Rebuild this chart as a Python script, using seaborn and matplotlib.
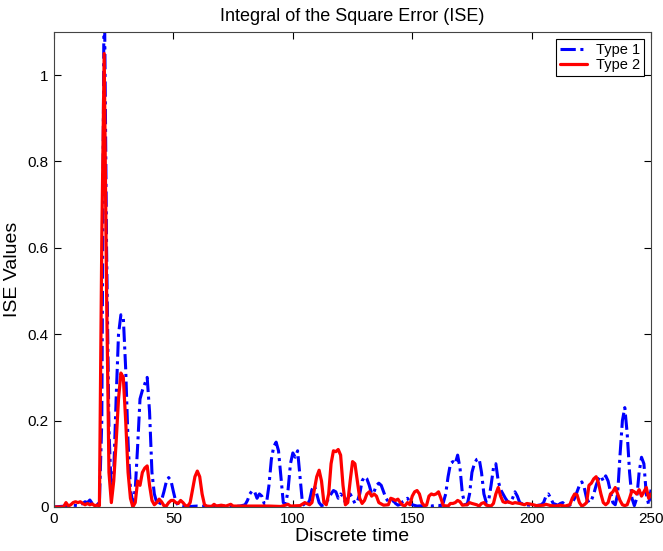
import matplotlib
matplotlib.use("Agg")
import matplotlib.pyplot as plt
import pandas as pd
import seaborn as sns

# Type 1 controller: (discrete time, ISE)
time_1 = [0, 5, 8, 10, 12, 13, 14, 15, 16, 17, 18, 19, 20, 21, 22, 23, 24, 25, 26, 27,
          28, 29, 30, 31, 32, 33, 34, 35, 36, 37, 38, 39, 40, 41, 42, 43, 44, 45, 46, 47,
          48, 49, 50, 51, 52, 54, 57, 60, 65, 70, 75, 78, 80, 81, 82, 83, 84, 85, 86, 87,
          88, 89, 90, 91, 92, 93, 94, 95, 96, 97, 98, 99, 100, 101, 102, 103, 104, 105, 106, 107,
          108, 109, 110, 111, 112, 113, 114, 115, 116, 117, 118, 119, 120, 121, 122, 123, 124, 125, 126, 127,
          128, 129, 130, 131, 132, 133, 134, 135, 136, 137, 138, 139, 140, 141, 142, 143, 144, 145, 146, 147,
          148, 149, 150, 152, 155, 158, 160, 162, 163, 164, 165, 166, 167, 168, 169, 170, 171, 172, 173, 174,
          175, 176, 177, 178, 179, 180, 181, 182, 183, 184, 185, 186, 187, 188, 189, 190, 191, 192, 193, 194,
          195, 197, 200, 202, 204, 205, 206, 207, 208, 209, 211, 212, 213, 214, 215, 216, 217, 218, 219, 220,
          221, 222, 223, 224, 225, 226, 227, 228, 229, 230, 231, 232, 233, 234, 235, 236, 237, 238, 239, 240,
          241, 242, 243, 244, 245, 246, 247, 248, 249, 250]
ise_1 = [0.0, 0.002, 0.004, 0.003, 0.008, 0.012, 0.01, 0.016, 0.008, 0.004, 0.005, 0.01, 0.2, 1.25, 0.6, 0.18, 0.03, 0.08, 0.25, 0.4,
         0.445, 0.44, 0.32, 0.15, 0.04, 0.01, 0.04, 0.14, 0.25, 0.27, 0.285, 0.3, 0.22, 0.08, 0.03, 0.01, 0.005, 0.015, 0.035, 0.058,
         0.068, 0.06, 0.035, 0.012, 0.004, 0.002, 0.001, 0.002, 0.001, 0.002, 0.001, 0.002, 0.005, 0.015, 0.03, 0.038, 0.035, 0.02, 0.03, 0.025,
         0.008, 0.01, 0.05, 0.11, 0.14, 0.15, 0.13, 0.07, 0.01, 0.005, 0.04, 0.1, 0.125, 0.115, 0.13, 0.07, 0.01, 0.003, 0.005, 0.015,
         0.04, 0.05, 0.03, 0.01, 0.003, 0.005, 0.01, 0.02, 0.03, 0.038, 0.035, 0.02, 0.03, 0.025, 0.01, 0.02, 0.03, 0.02, 0.008, 0.012,
         0.03, 0.06, 0.07, 0.065, 0.05, 0.03, 0.035, 0.05, 0.055, 0.05, 0.035, 0.02, 0.012, 0.01, 0.015, 0.008, 0.004, 0.006, 0.012, 0.015,
         0.02, 0.012, 0.005, 0.002, 0.003, 0.002, 0.004, 0.003, 0.01, 0.03, 0.07, 0.1, 0.105, 0.1, 0.12, 0.09, 0.03, 0.008, 0.005, 0.03,
         0.08, 0.1, 0.11, 0.112, 0.08, 0.03, 0.01, 0.015, 0.05, 0.09, 0.1, 0.06, 0.04, 0.03, 0.02, 0.012, 0.01, 0.02, 0.035, 0.025,
         0.01, 0.005, 0.004, 0.003, 0.005, 0.01, 0.025, 0.03, 0.02, 0.008, 0.004, 0.008, 0.01, 0.005, 0.003, 0.004, 0.01, 0.02, 0.035, 0.05,
         0.058, 0.045, 0.02, 0.01, 0.015, 0.03, 0.05, 0.065, 0.072, 0.06, 0.072, 0.06, 0.035, 0.01, 0.005, 0.03, 0.12, 0.2, 0.23, 0.17,
         0.08, 0.02, 0.003, 0.02, 0.08, 0.115, 0.1, 0.03, 0.005, 0.04]

# Type 2 controller: (discrete time, ISE)
time_2 = [0, 4, 5, 6, 7, 8, 9, 10, 11, 12, 13, 14, 15, 16, 17, 18, 19, 20, 21, 22,
          23, 24, 25, 26, 27, 28, 29, 30, 31, 32, 33, 34, 35, 36, 37, 38, 39, 40, 41, 42,
          43, 44, 45, 46, 47, 48, 49, 50, 51, 52, 53, 54, 55, 56, 57, 58, 59, 60, 61, 62,
          63, 64, 66, 67, 68, 70, 72, 74, 75, 80, 85, 90, 95, 98, 99, 103, 105, 107, 108, 109,
          110, 111, 112, 113, 114, 115, 116, 117, 118, 119, 120, 121, 122, 123, 124, 125, 126, 127, 128, 129,
          130, 131, 132, 133, 134, 135, 136, 138, 140, 141, 142, 143, 144, 145, 146, 147, 148, 149, 150, 151,
          152, 153, 154, 155, 156, 157, 158, 159, 160, 161, 162, 163, 165, 166, 167, 168, 169, 170, 171, 173,
          174, 175, 177, 178, 179, 180, 181, 183, 184, 185, 186, 187, 188, 189, 190, 192, 193, 195, 197, 198,
          200, 202, 205, 206, 208, 210, 212, 214, 216, 217, 218, 219, 220, 221, 222, 223, 224, 225, 226, 227,
          228, 229, 230, 231, 232, 233, 234, 235, 236, 237, 238, 239, 240, 241, 242, 243, 244, 245, 246, 247,
          248, 249, 250]
ise_2 = [0.0, 0.0, 0.01, 0.002, 0.005, 0.01, 0.012, 0.01, 0.012, 0.008, 0.005, 0.008, 0.005, 0.007, 0.003, 0.004, 0.003, 0.62, 1.05, 0.5,
         0.08, 0.01, 0.06, 0.15, 0.25, 0.31, 0.3, 0.2, 0.08, 0.02, 0.0, 0.01, 0.06, 0.05, 0.08, 0.09, 0.095, 0.05, 0.015, 0.005,
         0.01, 0.018, 0.012, 0.003, 0.002, 0.01, 0.015, 0.015, 0.01, 0.008, 0.015, 0.01, 0.003, 0.002, 0.01, 0.04, 0.07, 0.083, 0.07, 0.03,
         0.005, 0.002, 0.001, 0.006, 0.002, 0.004, 0.002, 0.006, 0.002, 0.002, 0.002, 0.002, 0.001, 0.006, 0.002, 0.003, 0.01, 0.005, 0.01, 0.04,
         0.07, 0.085, 0.06, 0.01, 0.005, 0.03, 0.1, 0.13, 0.128, 0.133, 0.12, 0.05, 0.005, 0.01, 0.06, 0.105, 0.1, 0.06, 0.02, 0.008,
         0.015, 0.03, 0.035, 0.025, 0.03, 0.025, 0.01, 0.004, 0.005, 0.02, 0.018, 0.015, 0.018, 0.01, 0.004, 0.003, 0.01, 0.005, 0.025, 0.035,
         0.038, 0.03, 0.01, 0.003, 0.004, 0.025, 0.03, 0.028, 0.03, 0.035, 0.02, 0.003, 0.002, 0.008, 0.008, 0.01, 0.015, 0.012, 0.004, 0.005,
         0.01, 0.008, 0.005, 0.002, 0.008, 0.01, 0.004, 0.002, 0.008, 0.03, 0.045, 0.025, 0.012, 0.01, 0.012, 0.008, 0.01, 0.008, 0.005, 0.008,
         0.006, 0.003, 0.004, 0.006, 0.003, 0.002, 0.004, 0.002, 0.005, 0.02, 0.03, 0.028, 0.01, 0.002, 0.005, 0.01, 0.05, 0.055, 0.065, 0.07,
         0.055, 0.03, 0.01, 0.005, 0.01, 0.03, 0.035, 0.045, 0.03, 0.015, 0.005, 0.003, 0.005, 0.02, 0.038, 0.035, 0.03, 0.04, 0.025, 0.035,
         0.045, 0.02, 0.03]

x_ticks = [0, 50, 100, 150, 200, 250]
y_ticks = [0, 0.2, 0.4, 0.6, 0.8, 1.0]
y_tick_labels = ["0", "0.2", "0.4", "0.6", "0.8", "1"]

sns.set_style("ticks")
plt.rcParams["font.family"] = ["Liberation Sans", "DejaVu Sans"]
plt.rcParams["text.color"] = "black"
plt.rcParams["axes.labelcolor"] = "black"

fig = plt.figure(figsize=(6.63, 5.51), dpi=100)
ax = fig.add_axes([0.0815, 0.08, 0.9005, 0.862])

df1 = pd.DataFrame({"t": time_1, "ise": ise_1})
df2 = pd.DataFrame({"t": time_2, "ise": ise_2})

sns.lineplot(data=df1, x="t", y="ise", ax=ax, color="#0000FF", lw=2.2,
             linestyle=(0, (5.0, 1.5, 1.0, 1.5)), estimator=None, sort=False,
             label="Type 1")
sns.lineplot(data=df2, x="t", y="ise", ax=ax, color="#FF0000", lw=2.3,
             estimator=None, sort=False, label="Type 2")

ax.set_xlim(0, 250)
ax.set_ylim(0, 1.1)
ax.set_xticks(x_ticks)
ax.set_yticks(y_ticks)
ax.set_yticklabels(y_tick_labels)
ax.tick_params(direction="in", top=True, right=True, length=5, width=0.8,
               labelsize=11, colors="black", pad=4)
for sp in ax.spines.values():
    sp.set_visible(True)
    sp.set_color("#444444")
    sp.set_linewidth(0.8)

ax.set_title("Integral of the Square Error (ISE)", fontsize=13, pad=8, color="black")
ax.set_xlabel("Discrete time", fontsize=14, labelpad=1)
ax.set_ylabel("ISE Values", fontsize=14)
ax.yaxis.set_label_coords(-0.056, 0.5)

leg = ax.legend(loc="upper right", fontsize=10.5, frameon=True, fancybox=False,
                framealpha=1, edgecolor="black", handlelength=1.9,
                borderaxespad=0.5, borderpad=0.25, labelspacing=0.1,
                handletextpad=0.6)
leg.get_frame().set_linewidth(0.8)
for txt in leg.get_texts():
    txt.set_color("black")

fig.savefig("out.png", dpi=100)
